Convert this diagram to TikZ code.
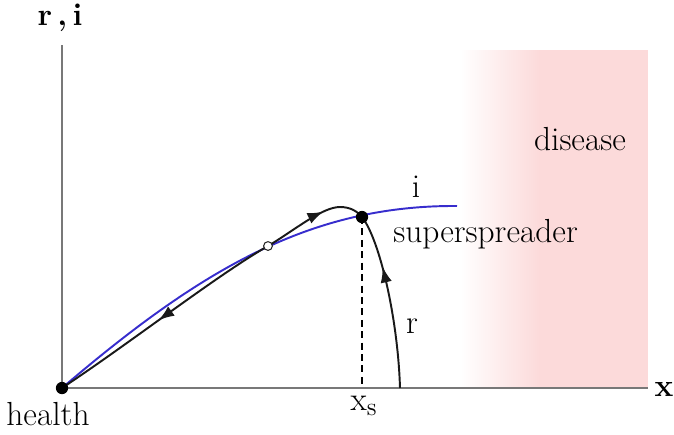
\documentclass[tikz,border=0pt]{standalone}
\usetikzlibrary{arrows.meta,decorations.markings}
\definecolor{pinkd}{RGB}{252,218,218}
\definecolor{axisgray}{RGB}{120,120,120}
\definecolor{iblue}{RGB}{55,45,205}
\tikzset{
  axisline/.style={draw=axisgray, line width=0.6pt},
  lbl/.style={font=\fontsize{19}{22}\selectfont, text=black, inner sep=0pt},
  blbl/.style={font=\bfseries\fontsize{18}{21}\selectfont, text=black, inner sep=0pt},
  blackcurve/.style={draw=black!90, line width=1.1pt},
  bluecurve/.style={draw=iblue, line width=1.1pt},
  fulldot/.style={circle, fill=black, inner sep=0pt, minimum size=7pt},
  opendot/.style={circle, draw=black!85, fill=white, line width=0.6pt, inner sep=0pt, minimum size=5pt}
}
\begin{document}
\begin{tikzpicture}[x=0.02cm,y=-0.02cm]
\useasboundingbox (0,0) rectangle (674,434);
% disease region
\shade[left color=white, right color=pinkd] (460,50) rectangle (540,388);
\fill[pinkd] (539.5,50) rectangle (648,388);
\node[lbl] (dis) at (580,139) {disease};
% axes
\coordinate (O) at (62,388);
\coordinate (ytop) at (62,45);
\coordinate (xend) at (648,388);
\draw[axisline] (O) -- (ytop);
\draw[axisline] (O) -- (xend);
\node[blbl] (ri) at (60,18) {r\,,\,i};
\node[blbl] (xl) at (664,389) {x};
% points
\coordinate (S) at (362,217);
\coordinate (C) at (268,246);
\coordinate (P) at (340,207);
\coordinate (B) at (400,388);
\coordinate (iend) at (457,206);
\coordinate (xs) at (362,388);
\draw[dashed, line width=0.8pt, dash pattern=on 4pt off 2.5pt] (S) -- (xs);
% blue curve i
\draw[bluecurve] (O) .. controls (200,270) and (310,205) .. (iend);
% black curve r
\draw[blackcurve, postaction={decorate}, decoration={markings,
   mark=at position 0.25 with {\arrow{Latex[length=9pt,width=6.5pt,reversed]}},
   mark=at position 0.59 with {\arrow{Latex[length=9pt,width=6.5pt]}},
   mark=at position 0.80 with {\arrow{Latex[length=9pt,width=6.5pt,reversed]}}}]
  (O) .. controls (130,343) and (218,274.5) .. (C)
      .. controls (295,230) and (322,207) .. (P)
      .. controls (350,207) and (357,211) .. (S)
      .. controls (380,240) and (398,320) .. (B);
% dots
\node[fulldot] (health) at (O) {};
\node[fulldot] (ss) at (S) {};
\node[opendot] (cross) at (C) {};
% labels
\node[lbl] (hl) at (48,414) {health};
\node[lbl] (il) at (416,187) {i};
\node[lbl, anchor=base west] (sl) at (393,242) {superspreader};
\node[lbl] (rl) at (412,326) {r};
\node[lbl] (xsl) at (364,406) {x$_{\mathrm{s}}$};
\end{tikzpicture}
\end{document}
